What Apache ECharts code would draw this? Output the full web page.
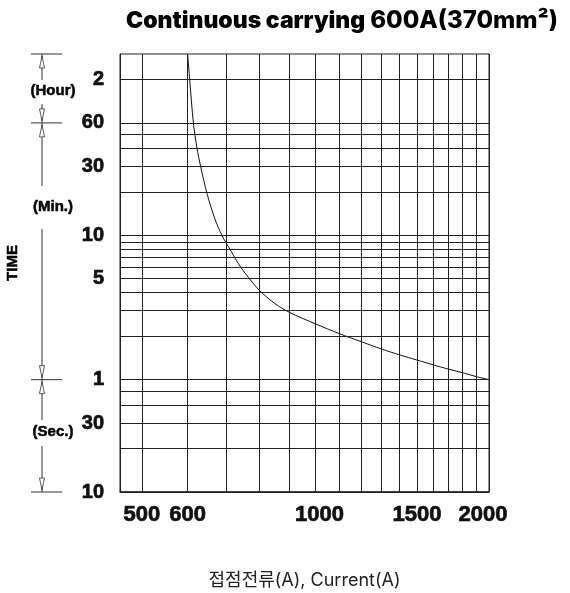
<!DOCTYPE html>
<html>
<head>
<meta charset="utf-8">
<script src="https://cdn.jsdelivr.net/npm/echarts@6/dist/echarts.min.js"></script>
<style>
  html, body { margin: 0; padding: 0; background: #fff; }
  #chart { width: 570px; height: 593px; }
</style>
</head>
<body>
<div id="chart"></div>
<script>
// curve: current (A) vs operating time (seconds)
const current = [600, 605, 614, 623, 632, 649, 669, 688, 700, 711, 730, 750, 780, 800, 850, 900, 1000, 1100, 1200, 1300, 1400, 1500, 1600, 1700, 1800, 1900, 2000];
const timeSec = [10800, 7200, 3600, 2400, 1800, 1150, 780, 600, 530, 478, 398, 339, 278, 248, 202, 176, 146, 125, 110, 98, 89, 82, 76, 71, 67, 63, 60];

// grid lines
const xGrid = [500, 600, 700, 800, 900, 1000, 1100, 1200, 1300, 1400, 1500, 1600, 1700, 1800, 1900, 2000];
const yGrid = [20, 30, 40, 50, 60, 120, 180, 240, 300, 360, 420, 480, 540, 600, 1200, 1800, 2400, 3000, 3600, 7200];

// tick labels
const xTickValues = [500, 600, 1000, 1500, 2000];
const xTickLabels = ['500', '600', '1000', '1500', '2000'];
const yTickValues = [7200, 3600, 1800, 600, 300, 60, 30, 10];
const yTickLabels = ['2', '60', '30', '10', '5', '1', '30', '10'];

const chart = echarts.init(document.getElementById('chart'));

const labelFont = {
  fontFamily: 'Liberation Sans', fontWeight: 'bold', color: '#111',
  textBorderColor: '#111', textBorderWidth: 0.7
};
const xPad = { 1000: [0, 0, 0, 8], 2000: [0, 12, 0, 0] };

const markData = [];
xGrid.forEach(v => {
  const i = xTickValues.indexOf(v);
  markData.push({
    xAxis: v,
    label: i < 0 ? { show: false } : Object.assign({
      show: true, position: 'start', distance: 12, fontSize: 22,
      formatter: xTickLabels[i], padding: xPad[v] || 0
    }, labelFont)
  });
});
yGrid.concat([10]).forEach(v => {
  const i = yTickValues.indexOf(v);
  markData.push({
    yAxis: v,
    label: i < 0 ? { show: false } : Object.assign({
      show: true, position: 'start', distance: 16, fontSize: 20,
      formatter: yTickLabels[i]
    }, labelFont)
  });
});

const option = {
  animation: false,
  title: {
    text: '{a|Continuous carrying} {b|600A(370mm²)}',
    left: 121,
    top: 4,
    textStyle: {
      rich: {
        a: { fontFamily: 'Inter', fontWeight: 900, fontSize: 23, color: '#000' },
        b: { fontFamily: 'Inter', fontWeight: 800, fontSize: 24, color: '#000' }
      }
    }
  },
  grid: {
    left: 120, right: 81, top: 54, bottom: 101,
    outerBoundsMode: 'none',
    show: true, borderColor: '#222', borderWidth: 1
  },
  xAxis: {
    type: 'log',
    min: 458,
    max: 2000,
    axisLabel: { show: false },
    axisTick: { show: false },
    splitLine: { show: false },
    axisLine: { show: true, lineStyle: { color: '#222', width: 1.5 } },
    name: '접점전류(A), Current(A)',
    nameLocation: 'middle',
    nameGap: 80,
    nameTextStyle: { fontFamily: 'Inter, "Noto Sans CJK KR"', fontSize: 18, color: '#222' }
  },
  yAxis: {
    type: 'log',
    min: 10,
    max: 10800,
    axisLabel: { show: false },
    axisTick: { show: false },
    splitLine: { show: false },
    axisLine: { show: true, lineStyle: { color: '#222' } },
    name: 'TIME',
    nameLocation: 'middle',
    nameRotate: 90,
    nameGap: 100,
    nameTextStyle: {
      fontFamily: 'Liberation Sans', fontWeight: 'bold', fontSize: 15, color: '#000',
      textBorderColor: '#000', textBorderWidth: 0.5, padding: [0, 0, 0, 20]
    }
  },
  series: [{
    type: 'line',
    data: current.map((c, i) => [c, timeSec[i]]),
    smooth: 0.3,
    symbol: 'none',
    lineStyle: { color: '#111', width: 1 },
    markLine: {
      silent: true,
      symbol: ['none', 'none'],
      lineStyle: { color: '#222', width: 1, type: 'solid' },
      data: markData
    }
  }]
};
chart.setOption(option);

// dimension marks on the left (hour / min / sec)
const py = v => chart.convertToPixel({ yAxisIndex: 0 }, v);
const yTop = py(10800), yHour = py(3600), yMin = py(60), yBot = py(10);
const lx = 42;
const g = [];
const stroke = { stroke: '#333', lineWidth: 1 };
function seg(y1, y2) {
  g.push({ type: 'line', shape: { x1: lx, y1: y1, x2: lx, y2: y2 }, style: stroke, silent: true });
}
function tick(y) {
  g.push({ type: 'line', shape: { x1: 31, y1: y, x2: 62, y2: y }, style: stroke, silent: true });
}
function arrow(yTip, dir) {
  g.push({
    type: 'polygon',
    shape: { points: [[lx, yTip], [lx - 2.5, yTip + dir * 12], [lx + 2.5, yTip + dir * 12]] },
    style: { fill: '#fff', stroke: '#333', lineWidth: 0.8 }, silent: true
  });
}
function label(text, y) {
  g.push({
    type: 'text', x: 53, y: y, silent: true,
    style: {
      text: text, fontFamily: 'Liberation Sans', fontWeight: 'bold', fontSize: 15, fill: '#000',
      stroke: '#000', lineWidth: 0.5, align: 'center', verticalAlign: 'middle'
    }
  });
}
[yTop, yHour, yMin, yBot].forEach(tick);
seg(yTop, yTop + 26); arrow(yTop + 2, 1);
seg(yHour - 19, yHour); arrow(yHour - 2, -1);
seg(yHour, 186); arrow(yHour + 2, 1);
seg(229, yMin); arrow(yMin - 2, -1);
seg(yMin, 420); arrow(yMin + 2, 1);
seg(446, yBot); arrow(yBot - 2, -1);
label('(Hour)', 91);
label('(Min.)', 207);
label('(Sec.)', 432);
chart.setOption({ graphic: g });
</script>
</body>
</html>
